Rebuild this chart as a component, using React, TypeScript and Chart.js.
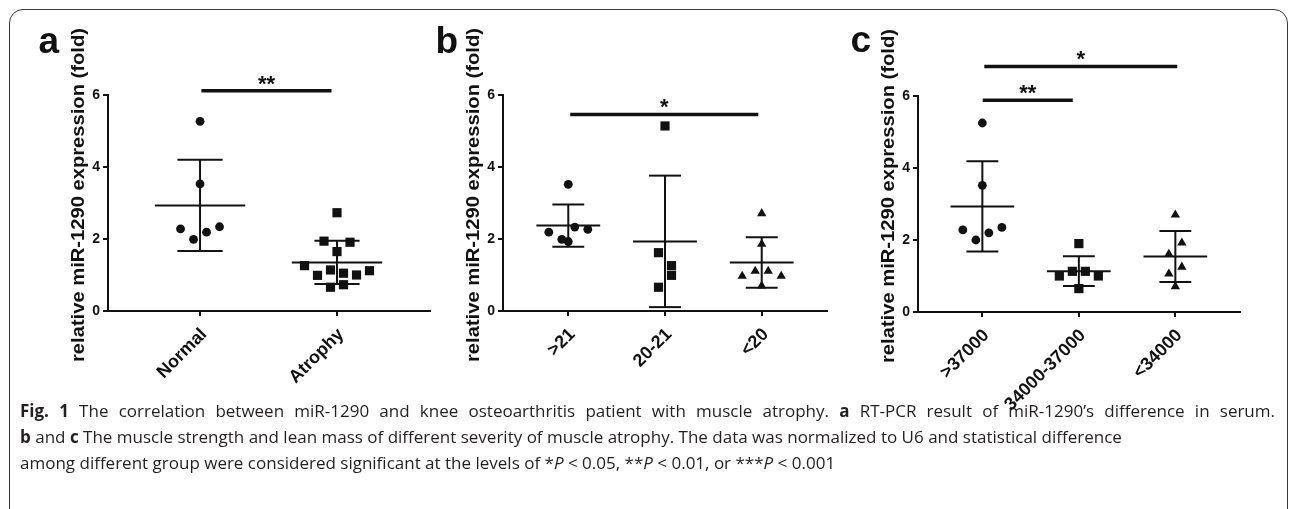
import React, { useEffect, useRef } from 'react';
import { Chart, registerables } from 'chart.js';

Chart.register(...registerables);

// ---------- data ----------
const catsA = ['Normal', 'Atrophy'];
const normalVals = [5.27, 3.53, 2.28, 1.99, 2.19, 2.34];
const atrophyVals = [2.73, 1.94, 1.65, 1.91, 1.26, 0.99, 1.14, 1.05, 1.0, 1.12, 0.66, 0.73];

const catsB = ['>21', '20-21', '<20'];
const gt21Vals = [3.52, 2.19, 1.99, 2.33, 2.27, 1.93];
const mid2021Vals = [5.14, 1.62, 1.26, 0.66, 0.99];
const lt20Vals = [2.71, 1.86, 0.97, 1.11, 1.11, 0.97, 0.7];

const catsC = ['>37000', '34000-37000', '<34000'];
const gt37000Vals = [5.25, 3.52, 2.28, 2.0, 2.2, 2.35];
const mid3437Vals = [1.9, 1.0, 1.13, 1.13, 1.0, 0.65];
const lt34000Vals = [2.7, 1.61, 1.92, 1.06, 1.25, 0.71];

const yTicks = [0, 2, 4, 6];

// significance bars (category positions, height, label)
const sigFromA = [0.01];
const sigToA = [0.96];
const sigYA = [6.12];
const sigTextA = ['**'];

const sigFromB = [0.02];
const sigToB = [1.965];
const sigYB = [5.46];
const sigTextB = ['*'];

const sigFromC = [0.004, 0.02];
const sigToC = [0.937, 2.02];
const sigYC = [5.88, 6.82];
const sigTextC = ['**', '*'];

const Y_TITLE = 'relative miR-1290 expression (fold)';

// ---------- style ----------
const INK = '#111111';
const FONT = '"Liberation Sans", Arial, Helvetica, sans-serif';
const PLOT_H = 216;
const CANVAS_H = 400;
const MEAN_HALF = 0.33;
const CAP_HALF = 0.165;
const ROW_PX = 13.5;
const SPACING_PX = 13;
const RADIUS: Record<string, number> = { circle: 4.4, rect: 6.5, triangle: 5.4 };

type Panel = {
  cats: string[];
  groups: number[][];
  styles: string[];
  sigFrom: number[];
  sigTo: number[];
  sigY: number[];
  sigText: string[];
  left: number;
  width: number;
  axisW: number;
  padRight: number;
  padTop: number;
  xMin: number;
  xMax: number;
};

const panels: Panel[] = [
  {
    cats: catsA, groups: [normalVals, atrophyVals], styles: ['circle', 'rect'],
    sigFrom: sigFromA, sigTo: sigToA, sigY: sigYA, sigText: sigTextA,
    left: 10, width: 430, axisW: 98, padRight: 10, padTop: 85, xMin: -0.672, xMax: 1.679,
  },
  {
    cats: catsB, groups: [gt21Vals, mid2021Vals, lt20Vals], styles: ['circle', 'rect', 'triangle'],
    sigFrom: sigFromB, sigTo: sigToB, sigY: sigYB, sigText: sigTextB,
    left: 440, width: 400, axisW: 63, padRight: 13, padTop: 85, xMin: -0.675, xMax: 2.675,
  },
  {
    cats: catsC, groups: [gt37000Vals, mid3437Vals, lt34000Vals], styles: ['circle', 'rect', 'triangle'],
    sigFrom: sigFromC, sigTo: sigToC, sigY: sigYC, sigText: sigTextC,
    left: 850, width: 420, axisW: 68, padRight: 30, padTop: 86, xMin: -0.667, xMax: 2.67,
  },
];

function mean(v: number[]) {
  return v.reduce((a, b) => a + b, 0) / v.length;
}
function sd(v: number[]) {
  const m = mean(v);
  return Math.sqrt(v.reduce((a, b) => a + (b - m) * (b - m), 0) / (v.length - 1));
}

// simple row-based scatter spreading (like a column scatter plot)
function swarm(vals: number[], pxX: number, pxY: number): number[] {
  const idx = vals.map((_, i) => i).sort((a, b) => vals[b] - vals[a]);
  const rows: number[][] = [];
  let cur: number[] = [];
  let top = 0;
  for (const i of idx) {
    if (cur.length && (top - vals[i]) * pxY > ROW_PX) {
      rows.push(cur);
      cur = [];
    }
    if (!cur.length) top = vals[i];
    cur.push(i);
  }
  if (cur.length) rows.push(cur);
  const off = new Array(vals.length).fill(0);
  for (const r of rows) {
    r.sort((a, b) => a - b);
    r.forEach((i, j) => {
      off[i] = ((j - (r.length - 1) / 2) * SPACING_PX) / pxX;
    });
  }
  return off;
}

function PanelChart({ p }: { p: Panel }) {
  const ref = useRef<HTMLCanvasElement>(null);
  useEffect(() => {
    const canvas = ref.current;
    if (!canvas) return;
    const plotW = p.width - p.axisW - p.padRight;
    const pxX = plotW / (p.xMax - p.xMin);
    const pxY = PLOT_H / 6;
    const datasets: any[] = [];
    const seg = (x1: number, y1: number, x2: number, y2: number, w: number) =>
      datasets.push({
        type: 'scatter',
        showLine: true,
        data: [{ x: x1, y: y1 }, { x: x2, y: y2 }],
        borderColor: INK,
        borderWidth: w,
        pointRadius: 0,
        clip: false,
      });
    p.groups.forEach((vals, i) => {
      const off = swarm(vals, pxX, pxY);
      datasets.push({
        type: 'scatter',
        data: vals.map((v, k) => ({ x: i + off[k], y: v })),
        pointStyle: p.styles[i],
        pointRadius: RADIUS[p.styles[i]],
        backgroundColor: INK,
        borderColor: INK,
        borderWidth: 0,
        clip: false,
      });
      const m = mean(vals);
      const s = sd(vals);
      seg(i - MEAN_HALF, m, i + MEAN_HALF, m, 2);
      seg(i, m - s, i, m + s, 2);
      seg(i - CAP_HALF, m + s, i + CAP_HALF, m + s, 2);
      seg(i - CAP_HALF, m - s, i + CAP_HALF, m - s, 2);
    });
    p.sigFrom.forEach((f, j) => seg(f, p.sigY[j], p.sigTo[j], p.sigY[j], 3.5));

    const overlay = {
      id: 'overlay',
      afterDraw(chart: any) {
        const { ctx, chartArea: ca, scales } = chart;
        ctx.save();
        ctx.fillStyle = INK;
        ctx.font = `bold 18px ${FONT}`;
        const w = ctx.measureText(Y_TITLE).width;
        ctx.translate(ca.left - 28.5, (ca.top + ca.bottom) / 2 - 8);
        ctx.rotate(-Math.PI / 2);
        ctx.scale(334 / w, 1);
        ctx.textAlign = 'center';
        ctx.textBaseline = 'middle';
        ctx.fillText(Y_TITLE, 0, 0);
        ctx.restore();

        ctx.save();
        ctx.fillStyle = INK;
        ctx.font = `bold 22px ${FONT}`;
        ctx.textAlign = 'center';
        ctx.textBaseline = 'alphabetic';
        p.sigText.forEach((t, j) => {
          const x = scales.x.getPixelForValue((p.sigFrom[j] + p.sigTo[j]) / 2);
          const y = scales.y.getPixelForValue(p.sigY[j]);
          ctx.fillText(t, x, y);
        });
        ctx.restore();
      },
    };

    const axisCommon = {
      grid: { display: true, drawOnChartArea: false, drawTicks: true, tickLength: 5, color: INK, lineWidth: 2 },
      border: { display: true, color: INK, width: 2 },
    };

    const chart = new Chart(canvas, {
      type: 'scatter',
      data: { datasets },
      options: {
        animation: false,
        responsive: false,
        maintainAspectRatio: false,
        events: [],
        layout: { padding: { top: p.padTop, right: p.padRight, left: 0, bottom: 0 } },
        plugins: { legend: { display: false }, tooltip: { enabled: false } },
        scales: {
          x: {
            type: 'linear',
            min: p.xMin,
            max: p.xMax,
            afterBuildTicks: (s: any) => {
              s.ticks = p.cats.map((_, i) => ({ value: i }));
            },
            afterFit: (s: any) => {
              s.height = CANVAS_H - p.padTop - PLOT_H;
            },
            ...axisCommon,
            ticks: {
              autoSkip: false,
              maxRotation: 45,
              minRotation: 45,
              padding: 8,
              labelOffset: 4,
              color: INK,
              font: { family: FONT, size: 18, weight: 'bold' },
              callback: (v: any) => p.cats[Math.round(Number(v))] ?? '',
            },
          },
          y: {
            type: 'linear',
            min: 0,
            max: 6,
            afterBuildTicks: (s: any) => {
              s.ticks = yTicks.map((v) => ({ value: v }));
            },
            afterFit: (s: any) => {
              s.width = p.axisW;
            },
            ...axisCommon,
            ticks: {
              padding: 3,
              color: INK,
              font: { family: FONT, size: 14, weight: 'bold' },
              callback: (v: any) => String(v),
            },
          },
        },
      } as any,
      plugins: [overlay],
    });
    return () => chart.destroy();
  }, [p]);
  return (
    <canvas
      ref={ref}
      width={p.width}
      height={CANVAS_H}
      style={{ position: 'absolute', left: p.left, top: 10, width: p.width, height: CANVAS_H }}
    />
  );
}

const letterStyle: React.CSSProperties = {
  position: 'absolute',
  fontFamily: FONT,
  fontWeight: 'bold',
  fontSize: 37,
  lineHeight: '37px',
  color: INK,
};

export default function App() {
  return (
    <div
      style={{
        position: 'fixed',
        left: 0,
        top: 0,
        width: 1290,
        height: 509,
        background: '#fff',
        overflow: 'hidden',
      }}
    >
      <div
        style={{
          position: 'absolute',
          left: 9,
          top: 9,
          width: 1279,
          height: 560,
          boxSizing: 'border-box',
          border: '1.5px solid #3a3a3a',
          borderRadius: 14,
        }}
      />
      {panels.map((p, i) => (
        <PanelChart key={i} p={p} />
      ))}
      <div style={{ ...letterStyle, left: 38.5, top: 21.7 }}>a</div>
      <div style={{ ...letterStyle, left: 435.5, top: 21.7 }}>b</div>
      <div style={{ ...letterStyle, left: 850.5, top: 20.7 }}>c</div>
      <div
        style={{
          position: 'absolute',
          left: 20,
          top: 398,
          fontFamily: '"Open Sans", "Noto Sans", sans-serif',
          fontSize: 17,
          lineHeight: '26px',
          color: '#231f20',
          whiteSpace: 'nowrap',
        }}
      >
        <div style={{ width: 1255, textAlign: 'justify', textAlignLast: 'justify', whiteSpace: 'normal' }}>
          <b>Fig. 1</b> The correlation between miR-1290 and knee osteoarthritis patient with muscle atrophy.{' '}
          <b>a</b> RT-PCR result of miR-1290’s difference in serum.
        </div>
        <div>
          <b>b</b> and <b>c</b> The muscle strength and lean mass of different severity of muscle atrophy. The data
          was normalized to U6 and statistical difference
        </div>
        <div>
          among different group were considered significant at the levels of *<i>P</i> &lt; 0.05, **<i>P</i> &lt;
          0.01, or ***<i>P</i> &lt; 0.001
        </div>
      </div>
    </div>
  );
}
